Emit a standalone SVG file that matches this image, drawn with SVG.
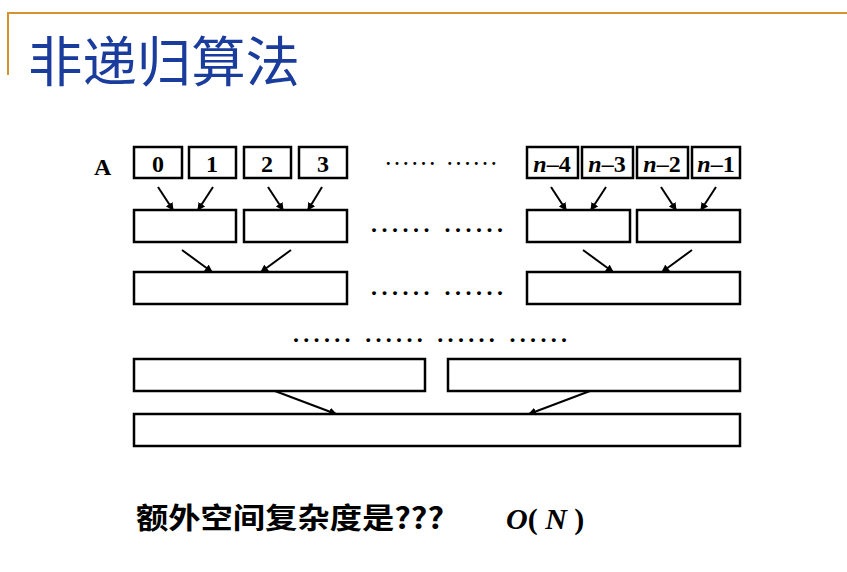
<svg xmlns="http://www.w3.org/2000/svg" width="847" height="572" viewBox="0 0 847 572">
<defs><marker id="ah" markerWidth="8" markerHeight="8" refX="7" refY="4" orient="auto" markerUnits="userSpaceOnUse"><path d="M0,0 L8,4 L0,8 z" fill="#000"/></marker></defs>
<style>
.b{fill:#fff;stroke:#000;stroke-width:2.5}
.t{font-family:"Liberation Serif",serif;font-weight:bold;font-size:24px;text-anchor:middle}
.d{font-family:"Liberation Serif",serif;font-weight:bold;font-size:24px}
.c line{stroke:#000;stroke-width:2;marker-end:url(#ah)}
</style>
<rect width="847" height="572" fill="#fff"/>
<path d="M8,75 V13 H847" fill="none" stroke="#d4932e" stroke-width="2"/>
<text x="28" y="82" font-family="'Noto Sans CJK SC',sans-serif" font-size="54" textLength="272" lengthAdjust="spacingAndGlyphs" fill="#1a3c9c">非递归算法</text>
<text x="94" y="175" class="t" style="text-anchor:start">A</text>
<g id="cells">
<g id="c0"><rect class="b" x="134" y="147" width="48" height="31"/><text class="t" x="158" y="172">0</text></g>
<g id="c1"><rect class="b" x="189" y="147" width="47" height="31"/><text class="t" x="212" y="172">1</text></g>
<g id="c2"><rect class="b" x="244" y="147" width="47" height="31"/><text class="t" x="267" y="172">2</text></g>
<g id="c3"><rect class="b" x="299" y="147" width="48" height="31"/><text class="t" x="323" y="172">3</text></g>
<g id="cn4"><rect class="b" x="527" y="147" width="51" height="31"/><text class="t" x="552" y="172"><tspan font-style="italic">n</tspan>–4</text></g>
<g id="cn3"><rect class="b" x="582" y="147" width="51" height="31"/><text class="t" x="607" y="172"><tspan font-style="italic">n</tspan>–3</text></g>
<g id="cn2"><rect class="b" x="637" y="147" width="51" height="31"/><text class="t" x="662" y="172"><tspan font-style="italic">n</tspan>–2</text></g>
<g id="cn1"><rect class="b" x="692" y="147" width="48" height="31"/><text class="t" x="716" y="172"><tspan font-style="italic">n</tspan>–1</text></g>
</g>
<g id="r2a"><rect class="b" x="134" y="210" width="102" height="32"/></g>
<g id="r2b"><rect class="b" x="244" y="210" width="103" height="32"/></g>
<g id="r2c"><rect class="b" x="527" y="210" width="103" height="32"/></g>
<g id="r2d"><rect class="b" x="637" y="210" width="103" height="32"/></g>
<g id="r3a"><rect class="b" x="134" y="272" width="213" height="32"/></g>
<g id="r3b"><rect class="b" x="527" y="272" width="213" height="32"/></g>
<g id="r4a"><rect class="b" x="134" y="359" width="291" height="32"/></g>
<g id="r4b"><rect class="b" x="448" y="359" width="292" height="32"/></g>
<g id="r5"><rect class="b" x="134" y="414" width="606" height="32"/></g>
<g id="dots" class="d">
<text x="386" y="165" font-size="18" textLength="110" lengthAdjust="spacing">...... ......</text>
<text x="371" y="232" textLength="132" lengthAdjust="spacing">...... ......</text>
<text x="371" y="295" textLength="132" lengthAdjust="spacing">...... ......</text>
<text x="293" y="342" textLength="274" lengthAdjust="spacing">...... ...... ...... ......</text>
</g>
<g class="c" id="connectors">
<line x1="158" y1="187" x2="173" y2="210"/><line x1="213" y1="187" x2="198" y2="210"/>
<line x1="268" y1="187" x2="283" y2="210"/><line x1="322" y1="187" x2="308" y2="210"/>
<line x1="551" y1="187" x2="566" y2="210"/><line x1="606" y1="187" x2="591" y2="210"/>
<line x1="661" y1="187" x2="676" y2="210"/><line x1="716" y1="187" x2="701" y2="210"/>
<line x1="182" y1="250" x2="212" y2="272"/><line x1="291" y1="250" x2="261" y2="272"/>
<line x1="583" y1="250" x2="613" y2="272"/><line x1="692" y1="250" x2="662" y2="272"/>
<line x1="275" y1="391" x2="336" y2="414"/><line x1="590" y1="391" x2="529" y2="414"/>
</g>
<text x="136" y="529" font-family="'Noto Sans CJK SC',sans-serif" font-size="29" font-weight="bold" textLength="308" lengthAdjust="spacingAndGlyphs">额外空间复杂度是???</text>
<text x="506" y="529" font-family="'Liberation Serif',serif" font-size="30" font-weight="bold"><tspan font-style="italic">O</tspan>( <tspan font-style="italic">N</tspan> )</text>
</svg>
